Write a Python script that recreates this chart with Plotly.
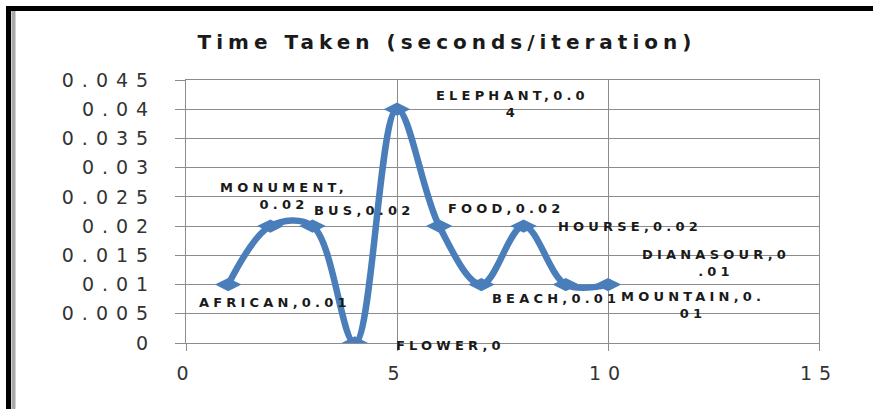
import plotly.graph_objects as go

# ---- data ----
iterations = [1, 2, 3, 4, 5, 6, 7, 8, 9, 10]
time_taken = [0.01, 0.02, 0.02, 0.0, 0.04, 0.02, 0.01, 0.02, 0.01, 0.01]
image_names = ["AFRICAN", "MONUMENT", "BUS", "FLOWER", "ELEPHANT",
               "FOOD", "BEACH", "HOURSE", "DIANASOUR", "MOUNTAIN"]
y_tick_values = [0, 0.005, 0.01, 0.015, 0.02, 0.025, 0.03, 0.035, 0.04, 0.045]
y_tick_labels = ["0", "0.005", "0.01", "0.015", "0.02", "0.025", "0.03", "0.035", "0.04", "0.045"]
x_tick_values = [0, 5, 10, 15]
x_tick_labels = ["0", "5", "10", "15"]
title_text = "Time Taken (seconds/iteration)"

# ---- styling / placement (not data) ----
W, H = 873, 409
L, R, T, B = 186, 819, 80, 343          # plot area in pixels
BLUE = "#4A7EBB"
GRID = "#8C8C8C"
label_breaks = [None, 9, None, None, 12, None, None, None, 11, 11]
label_offsets = [(45, 18), (12, -30), (49, -16), (94, 2), (113, -5),
                 (65, -18), (73, 14), (104, 0), (148, -22), (83, 20)]


def spaced(s, ls):
    return "<br>".join(f"<span style='letter-spacing:{ls}px'>{part}</span>"
                       for part in s.split("<br>"))


fig = go.Figure()
fig.add_trace(go.Scatter(
    x=iterations, y=time_taken, mode="lines+markers",
    line=dict(color=BLUE, width=6.5, shape="spline", smoothing=1.0),
    marker=dict(symbol="diamond-wide", size=19, color=BLUE),
    hoverinfo="skip", showlegend=False,
))

annotations = []
for xi, yi, name, brk, (dx, dy) in zip(iterations, time_taken, image_names,
                                       label_breaks, label_offsets):
    txt = f"{name},{yi:g}"
    if brk is not None:
        txt = txt[:brk] + "<br>" + txt[brk:]
    annotations.append(dict(
        x=xi, y=yi, xref="x", yref="y", showarrow=False,
        text=spaced(txt, 4.2), xshift=dx + 2, yshift=-dy,
        font=dict(family="DejaVu Sans", size=13, color="#1a1a1a", weight="bold"),
    ))


def px(xp):
    return (xp - L) / (R - L)


def py(yp):
    return (B - yp) / (B - T)


shapes = [
    dict(type="line", xref="paper", yref="paper", x0=px(6), x1=px(W + 2),
         y0=py(8.5), y1=py(8.5), line=dict(color="black", width=5)),
    dict(type="line", xref="paper", yref="paper", x0=px(8.5), x1=px(8.5),
         y0=py(6), y1=py(H + 2), line=dict(color="black", width=5)),
    dict(type="line", xref="paper", yref="paper", x0=px(13.5), x1=px(13.5),
         y0=py(11), y1=py(H + 2), line=dict(color="#A8A8A8", width=4)),
]

fig.update_layout(
    width=W, height=H,
    margin=dict(l=L, r=W - R, t=T, b=H - B, pad=0),
    paper_bgcolor="white", plot_bgcolor="white",
    title=dict(text=spaced(title_text, 5), x=447 / W, xanchor="center",
               y=1 - 42 / H, yanchor="middle",
               font=dict(family="DejaVu Sans", size=20, color="#1a1a1a", weight="bold")),
    xaxis=dict(range=[0, 15], tickvals=x_tick_values,
               ticktext=[spaced(t, 7) for t in x_tick_labels],
               showgrid=True, gridcolor=GRID, gridwidth=1,
               showline=True, linecolor=GRID, linewidth=1, mirror=True,
               ticks="outside", ticklen=7, tickcolor=GRID, zeroline=False,
               ticklabelstandoff=6,
               tickfont=dict(family="DejaVu Sans", size=19, color="#333333")),
    yaxis=dict(range=[0, 0.045], tickvals=y_tick_values,
               ticktext=[spaced(t, 8) for t in y_tick_labels],
               showgrid=True, gridcolor=GRID, gridwidth=1,
               showline=True, linecolor=GRID, linewidth=1, mirror=True,
               ticks="outside", ticklen=10, tickcolor=GRID, zeroline=False,
               ticklabelstandoff=15,
               tickfont=dict(family="DejaVu Sans", size=19, color="#333333")),
    annotations=annotations,
    shapes=shapes,
)

fig.write_html("out.html", config={"displayModeBar": False},
               post_script="document.body.style.margin='0';document.body.style.padding='0';")
